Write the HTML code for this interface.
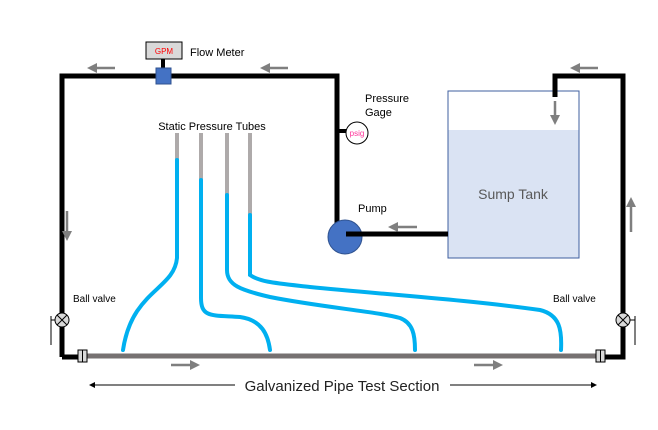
<!DOCTYPE html>
<html><head><style>body{margin:0;background:#fff}svg{display:block}text{font-family:"Liberation Sans",sans-serif}</style></head><body>
<svg width="658" height="430" viewBox="0 0 658 430" xmlns="http://www.w3.org/2000/svg">
<defs>
<marker id="ag" markerWidth="4" markerHeight="4" refX="2" refY="2" orient="auto"><path d="M0,0 L4,2 L0,4 z" fill="#7f7f7f"/></marker>
<marker id="ak" markerWidth="6" markerHeight="6" refX="5" refY="3" orient="auto"><path d="M0,0 L6,3 L0,6 z" fill="#000"/></marker>
</defs>
<!-- tank -->
<rect x="448" y="91" width="131" height="167" fill="#fff" stroke="#3f5f9f" stroke-width="1"/>
<rect x="448.5" y="130" width="130" height="127.5" fill="#dae3f3"/>
<text x="513" y="199" font-size="14" fill="#595959" text-anchor="middle">Sump Tank</text>
<!-- black pipes -->
<g stroke="#000" stroke-width="5" fill="none">
<path d="M62,357 V76 H337 V236"/>
<path d="M346,234 H448"/>
<path d="M555,97 V76 H623 V357 H600"/>
<path d="M62,357 H80"/>
</g>
<!-- bottom gray pipe -->
<path d="M80,356 H600" stroke="#767171" stroke-width="5"/>
<rect x="78" y="350" width="9" height="12" fill="#d9d9d9" stroke="#000" stroke-width="1"/><line x1="82.5" y1="350" x2="82.5" y2="362" stroke="#000"/>
<rect x="596" y="350" width="9" height="12" fill="#d9d9d9" stroke="#000" stroke-width="1"/><line x1="600.5" y1="350" x2="600.5" y2="362" stroke="#000"/>
<!-- pump -->
<circle cx="345" cy="237" r="17" fill="#4472c4" stroke="#2f528f"/>
<path d="M346,234 H365" stroke="#000" stroke-width="5"/>
<text x="358" y="212" font-size="11">Pump</text>
<!-- gage -->
<path d="M337,131 H347" stroke="#000" stroke-width="4"/>
<circle cx="357" cy="133" r="11" fill="#fff" stroke="#000"/>
<text x="357" y="136" font-size="8" fill="#ff3399" text-anchor="middle">psig</text>
<text x="365" y="102" font-size="11">Pressure</text>
<text x="365" y="116" font-size="11">Gage</text>
<!-- flow meter -->
<rect x="146" y="42" width="36" height="17" fill="#d9d9d9" stroke="#000"/>
<text x="164" y="54" font-size="8" fill="#ff0000" text-anchor="middle">GPM</text>
<path d="M163,59 V69" stroke="#000" stroke-width="4"/>
<rect x="156" y="68" width="15" height="16" fill="#4472c4" stroke="#2f528f"/>
<text x="190" y="56" font-size="11">Flow Meter</text>
<!-- tubes -->
<text x="212" y="130" font-size="11" text-anchor="middle">Static Pressure Tubes</text>
<g stroke="#aeaaaa" stroke-width="4"><path d="M177,133 V160"/><path d="M201,133 V180"/><path d="M227,133 V195"/><path d="M250,133 V215"/></g>
<g stroke="#00b0f0" stroke-width="4" fill="none" stroke-linecap="round">
<path d="M177,160 V258 C174,290 132,290 123,350"/>
<path d="M201,180 V298 C201,318 212,315 240,317 C262,320 268,335 270,350"/>
<path d="M227,195 V270 C227,285 240,290 270,297 C320,307 380,312 400,318 C413,323 415,335 415,350"/>
<path d="M250,215 V275 C260,282 275,283 310,287 C380,294 470,300 540,310 C560,315 562,330 561,350"/>
</g>
<!-- ball valves -->
<g stroke="#000" stroke-width="1">
<circle cx="62" cy="320" r="7" fill="#d9d9d9"/><path d="M57,315 L67,325 M67,315 L57,325 M55,320 H51 M51,316 V345"/>
<circle cx="623" cy="320" r="7" fill="#d9d9d9"/><path d="M618,315 L628,325 M628,315 L618,325 M630,320 H635 M635,316 V345"/>
</g>
<text x="73" y="302" font-size="10">Ball valve</text>
<text x="553" y="302" font-size="10">Ball valve</text>
<!-- gray flow arrows -->
<g stroke="#7f7f7f" stroke-width="2.5" marker-end="url(#ag)">
<path d="M115,68 H92"/><path d="M288,68 H265"/><path d="M598,68 H575"/>
<path d="M555,101 V120"/><path d="M67,211 V236"/><path d="M631,232 V202"/>
<path d="M417,227 H393"/><path d="M171,365 H195"/><path d="M474,365 H498"/>
</g>
<!-- dimension -->
<path d="M235,385 H90" stroke="#000" stroke-width="1" marker-end="url(#ak)"/>
<path d="M450,385 H596" stroke="#000" stroke-width="1" marker-end="url(#ak)"/>
<text x="342" y="391" font-size="15" fill="#222" text-anchor="middle">Galvanized Pipe Test Section</text>
</svg>
</body></html>
